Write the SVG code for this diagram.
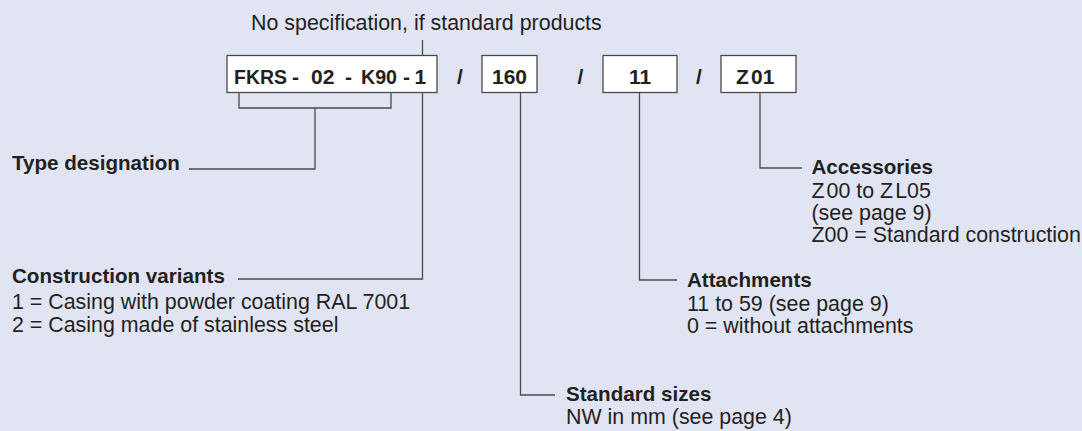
<svg xmlns="http://www.w3.org/2000/svg" width="1082" height="431" viewBox="0 0 1082 431">
  <style>
    text { font-family: "Liberation Sans", Arial, Helvetica, sans-serif; fill: #231f20; }
    .r { font-size: 21.4px; }
    .b { font-size: 20.6px; font-weight: bold; }
    .k { font-size: 21px; font-weight: bold; }
    .box { fill: #ffffff; stroke: #4a4a4a; stroke-width: 1.3; }
    .conn path { fill: none; stroke: #4a4a4a; stroke-width: 1.3; }
  </style>
  <rect width="1082" height="431" fill="#e1e5f3"/>

  <!-- order code boxes -->
  <g id="code-type">
    <rect class="box" x="227" y="55.5" width="210" height="37"/>
    <text class="k" y="83.5"><tspan x="234" textLength="53" lengthAdjust="spacingAndGlyphs">FKRS</tspan><tspan x="292">-</tspan><tspan x="311">02</tspan><tspan x="345">-</tspan><tspan x="361" textLength="36" lengthAdjust="spacingAndGlyphs">K90</tspan><tspan x="403">-</tspan><tspan x="414.5">1</tspan></text>
  </g>
  <text class="k" x="460" y="83.5" text-anchor="middle">/</text>
  <g id="code-size">
    <rect class="box" x="482" y="55.5" width="55" height="37"/>
    <text class="k" x="509.5" y="83.5" text-anchor="middle">160</text>
  </g>
  <text class="k" x="580.5" y="83.5" text-anchor="middle">/</text>
  <g id="code-attachment">
    <rect class="box" x="603" y="55.5" width="74" height="37"/>
    <text class="k" x="640" y="83.5" text-anchor="middle">11</text>
  </g>
  <text class="k" x="699" y="83.5" text-anchor="middle">/</text>
  <g id="code-accessory">
    <rect class="box" x="721" y="55.5" width="75" height="37"/>
    <text class="k" y="83.5"><tspan x="736">Z</tspan><tspan x="751">01</tspan></text>
  </g>

  <!-- leader lines -->
  <g class="conn" id="connectors">
    <path d="M422.5,40 V55.5"/>
    <path d="M239,92.5 V108 H391 V92.5"/>
    <path d="M315,108 V169 H189"/>
    <path d="M422.5,92.5 V279 H238"/>
    <path d="M520.5,92.5 V395 H555"/>
    <path d="M639.5,92.5 V280 H677"/>
    <path d="M760,92.5 V168 H802"/>
  </g>

  <!-- explanations -->
  <g id="note-standard">
    <text class="r" x="251" y="30">No specification, if standard products</text>
  </g>
  <g id="label-type">
    <text class="b" x="12" y="170">Type designation</text>
  </g>
  <g id="label-construction">
    <text class="b" x="12" y="283">Construction variants</text>
    <text class="r" x="12" y="309">1 = Casing with powder coating RAL 7001</text>
    <text class="r" x="12" y="331.5">2 = Casing made of stainless steel</text>
  </g>
  <g id="label-size">
    <text class="b" x="566" y="401">Standard sizes</text>
    <text class="r" x="566" y="424">NW in mm (see page 4)</text>
  </g>
  <g id="label-attachment">
    <text class="b" x="687" y="287">Attachments</text>
    <text class="r" x="687" y="311">11 to 59 (see page 9)</text>
    <text class="r" x="687" y="333">0 = without attachments</text>
  </g>
  <g id="label-accessory">
    <text class="b" x="811.5" y="174">Accessories</text>
    <text class="r" x="811.5" y="198">Z<tspan dx="2">00 to Z</tspan><tspan dx="2">L05</tspan></text>
    <text class="r" x="811.5" y="220">(see page 9)</text>
    <text class="r" x="811.5" y="242">Z00 = Standard construction</text>
  </g>
</svg>
